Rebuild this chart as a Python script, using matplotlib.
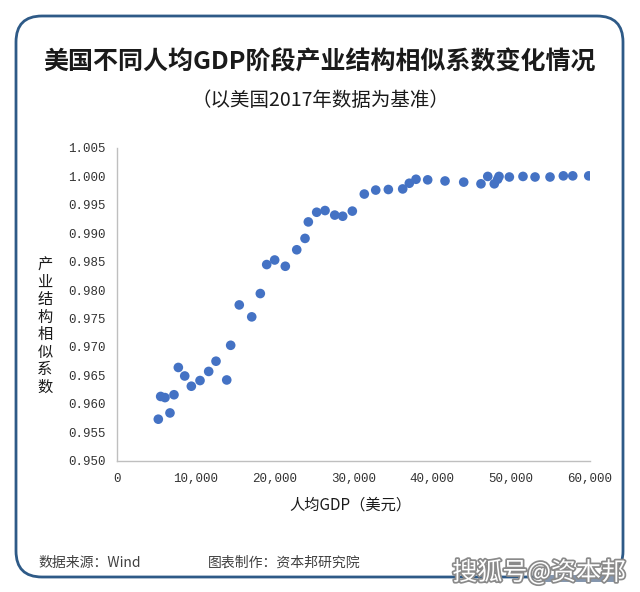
import matplotlib.pyplot as plt
import matplotlib.patheffects as pe
from matplotlib.patches import FancyBboxPatch, Rectangle
from matplotlib.ticker import FuncFormatter

plt.rcParams['font.family'] = ['Noto Sans CJK SC', 'DejaVu Sans']

# per-capita GDP (USD) vs. industrial-structure similarity coefficient
gdp = [5240, 5540, 6090, 6720, 7230, 7780, 8590, 9430, 10530, 11630,
       12560, 13920, 14420, 15510, 17090, 18180, 18990, 20000, 21350, 22800,
       23850, 24270, 25330, 26390, 27620, 28630, 29850, 31370, 32820, 34420,
       36240, 37080, 37930, 39410, 41610, 43980, 46170, 47030, 47860, 48290,
       48460, 49770, 51500, 53030, 54930, 56620, 57810, 59840]
coef = [0.9573, 0.9613, 0.9611, 0.9584, 0.9616, 0.9664, 0.9649, 0.9631, 0.9641, 0.9657,
        0.9675, 0.9642, 0.9703, 0.9774, 0.9753, 0.9794, 0.9845, 0.9853, 0.9842, 0.9871,
        0.9891, 0.9920, 0.9937, 0.9940, 0.9932, 0.9930, 0.9939, 0.9969, 0.9976, 0.9977,
        0.9978, 0.9988, 0.9995, 0.9994, 0.9992, 0.9990, 0.9987, 1.0000, 0.9987, 0.9995,
        1.0000, 0.9999, 1.0000, 0.9999, 0.9999, 1.0001, 1.0001, 1.0001]

x_ticks = [0, 10000, 20000, 30000, 40000, 50000, 60000]
y_ticks = [0.950, 0.955, 0.960, 0.965, 0.970, 0.975, 0.980, 0.985, 0.990, 0.995, 1.000, 1.005]

W, H = 640, 592
fig = plt.figure(figsize=(W / 100, H / 100), dpi=100)

# background frame in pixel coordinates
bg = fig.add_axes([0, 0, 1, 1])
bg.set_xlim(0, W); bg.set_ylim(H, 0); bg.axis("off")
bg.add_patch(FancyBboxPatch((16, 16), 607, 561, boxstyle="round,pad=0,rounding_size=26",
                            fill=False, edgecolor="#2E5A87", linewidth=2))

bg.text(320, 62, "美国不同人均GDP阶段产业结构相似系数变化情况", ha="center", va="center",
        fontsize=18, weight="bold", color="#1a1a1a")
bg.text(320, 101, "（以美国2017年数据为基准）", ha="center", va="center",
        fontsize=14, color="#1a1a1a")

bg.text(45, 326, "\n".join("产业结构相似系数"), ha="center", va="center",
        fontsize=11, linespacing=1.03, color="#1a1a1a")
bg.text(350, 505, "人均GDP（美元）", ha="center", va="center", fontsize=11, color="#1a1a1a")

bg.text(38, 563, "数据来源：Wind", ha="left", va="center", fontsize=10, color="#404040")
bg.text(208, 563, "图表制作：资本邦研究院", ha="left", va="center", fontsize=10, color="#404040")

# logo corner covered by the sohu watermark
bg.add_patch(Rectangle((545, 568), 80, 18, facecolor="white", edgecolor="none", zorder=2))
bg.plot([545, 612], [578, 578], color="#1F3F6B", linewidth=5, alpha=0.55, zorder=2)
bg.text(626, 573, "搜狐号@资本邦", ha="right", va="center", fontsize=18, color="white",
        zorder=3, path_effects=[pe.withStroke(linewidth=2.5, foreground="#8a8a8a")])

# scatter
ax = fig.add_axes([117 / W, 1 - 460.7 / H, (590 - 117) / W, (460.7 - 148) / H])
ax.scatter(gdp, coef, s=48, color="#4472C4", edgecolors="none", zorder=3)
ax.set_xlim(0, 60000)
ax.set_ylim(0.950, 1.005)
ax.set_xticks(x_ticks)
ax.set_yticks(y_ticks)
ax.xaxis.set_major_formatter(FuncFormatter(lambda v, p: f"{v:,.0f}"))
ax.yaxis.set_major_formatter(FuncFormatter(lambda v, p: f"{v:.3f}"))
for s in ["top", "right"]:
    ax.spines[s].set_visible(False)
for s in ["left", "bottom"]:
    ax.spines[s].set_color("#BFBFBF")
    ax.spines[s].set_linewidth(1)
ax.tick_params(axis="both", length=0, labelsize=9, labelcolor="#333333")
ax.tick_params(axis="y", pad=8)
ax.tick_params(axis="x", pad=9)
for lbl in ax.get_xticklabels() + ax.get_yticklabels():
    lbl.set_fontfamily("Liberation Mono")
ax.patch.set_alpha(0)

fig.savefig("out.png", dpi=100)
